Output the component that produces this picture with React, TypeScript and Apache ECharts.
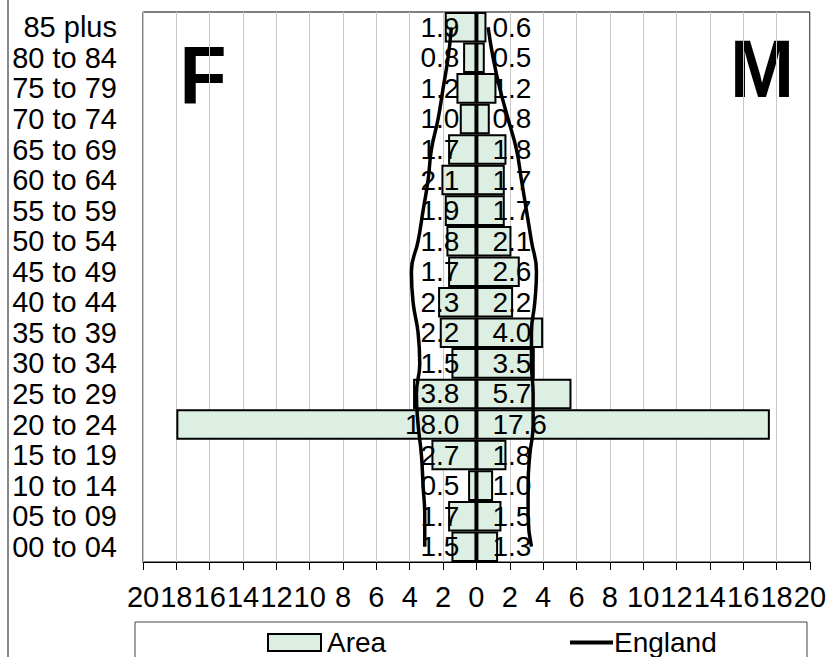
import React, { useEffect, useRef } from "react";
import * as echarts from "echarts";

const categories = [
  "00 to 04", "05 to 09", "10 to 14", "15 to 19", "20 to 24", "25 to 29",
  "30 to 34", "35 to 39", "40 to 44", "45 to 49", "50 to 54", "55 to 59",
  "60 to 64", "65 to 69", "70 to 74", "75 to 79", "80 to 84", "85 plus",
];
const areaFemale = [1.5, 1.7, 0.5, 2.7, 18.0, 3.8, 1.5, 2.2, 2.3, 1.7, 1.8, 1.9, 2.1, 1.7, 1.0, 1.2, 0.8, 1.9];
const areaMale = [1.3, 1.5, 1.0, 1.8, 17.6, 5.7, 3.5, 4.0, 2.2, 2.6, 2.1, 1.7, 1.7, 1.8, 0.8, 1.2, 0.5, 0.6];
const englandFemale = [3.1, 3.1, 3.2, 3.3, 3.5, 3.6, 3.4, 3.5, 3.8, 3.9, 3.5, 3.2, 2.9, 2.7, 2.3, 2.0, 1.7, 1.5];
const englandMale = [3.3, 3.1, 3.1, 3.2, 3.4, 3.4, 3.3, 3.3, 3.5, 3.6, 3.3, 3.0, 2.7, 2.4, 1.9, 1.4, 1.0, 0.7];
const legendNames = ["Area", "England"];

const FONT = "'Liberation Sans', Arial, sans-serif";
const BAR_FILL = "#dcefe2";

export default function App() {
  const ref = useRef<HTMLDivElement>(null);
  useEffect(() => {
    if (!ref.current) return;
    const chart = echarts.init(ref.current, undefined, { renderer: "svg" });
    const labelFmt = (p: any) => Math.abs(p.value).toFixed(1);
    chart.setOption({
      animation: false,
      backgroundColor: "#fff",
      textStyle: { fontFamily: FONT },
      grid: {
        left: 143, right: 19, top: 12, bottom: 95,
        show: true, borderColor: "#000", borderWidth: 1,
      },
      xAxis: {
        type: "value", min: -20, max: 20, interval: 2,
        axisLine: { show: true, lineStyle: { color: "#000", width: 1 } },
        axisTick: { show: true, length: 8, lineStyle: { color: "#000" } },
        splitLine: { show: true, lineStyle: { color: "#c8c8c8", width: 1 } },
        axisLabel: {
          formatter: (v: number) => String(Math.abs(v)),
          fontSize: 29, color: "#000", margin: 20, fontFamily: FONT,
        },
      },
      yAxis: {
        type: "category", data: categories,
        axisLine: { show: true, lineStyle: { color: "#000", width: 1 } },
        axisTick: { show: false },
        axisLabel: { interval: 0, fontSize: 29, color: "#000", margin: 26, fontFamily: FONT },
      },
      graphic: [
        { type: "line", shape: { x1: 8, y1: 0, x2: 8, y2: 657 }, style: { stroke: "#888", lineWidth: 2 } },
        { type: "rect", shape: { x: 135, y: 622, width: 672, height: 60 }, style: { fill: "none", stroke: "#444", lineWidth: 1 } },
        { type: "rect", shape: { x: 268, y: 634, width: 53, height: 17 }, style: { fill: BAR_FILL, stroke: "#000", lineWidth: 2 } },
        { type: "text", x: 327, y: 642, style: { text: legendNames[0], font: `28px ${FONT}`, fill: "#000", textAlign: "left", textVerticalAlign: "middle" } },
        { type: "line", shape: { x1: 570, y1: 642.5, x2: 613, y2: 642.5 }, style: { stroke: "#000", lineWidth: 4 } },
        { type: "text", x: 614, y: 642, style: { text: legendNames[1], font: `28px ${FONT}`, fill: "#000", textAlign: "left", textVerticalAlign: "middle" } },
        { type: "text", x: 179.5, y: 76, scaleX: 0.95, style: { text: "F", font: `bold 81px ${FONT}`, fill: "#000", textAlign: "left", textVerticalAlign: "middle" } },
        { type: "text", x: 730, y: 68.5, scaleX: 0.95, style: { text: "M", font: `bold 81px ${FONT}`, fill: "#000", textAlign: "left", textVerticalAlign: "middle" } },
      ],
      series: [
        {
          name: legendNames[0], type: "bar", stack: "pop", barCategoryGap: "0%",
          data: areaFemale.map((v) => -v),
          itemStyle: { color: BAR_FILL, borderColor: "#000", borderWidth: 2 },
          label: { show: true, position: "insideRight", distance: 17, formatter: labelFmt, fontSize: 28, color: "#000", fontFamily: FONT },
        },
        {
          name: legendNames[0], type: "bar", stack: "pop", barCategoryGap: "0%",
          data: areaMale,
          itemStyle: { color: BAR_FILL, borderColor: "#000", borderWidth: 2 },
          label: { show: true, position: "insideLeft", distance: 16, formatter: labelFmt, fontSize: 28, color: "#000", fontFamily: FONT },
        },
        {
          name: legendNames[1], type: "line", smooth: 0.5, symbol: "none",
          data: englandFemale.map((v) => -v),
          lineStyle: { color: "#000", width: 3.5 }, itemStyle: { color: "#000" }, z: 5,
        },
        {
          name: legendNames[1], type: "line", smooth: 0.5, symbol: "none",
          data: englandMale,
          lineStyle: { color: "#000", width: 3.5 }, itemStyle: { color: "#000" }, z: 5,
        },
      ],
    });
    return () => chart.dispose();
  }, []);
  return (
    <div
      ref={ref}
      style={{ position: "absolute", left: 0, top: 0, width: 829, height: 657 }}
    />
  );
}
